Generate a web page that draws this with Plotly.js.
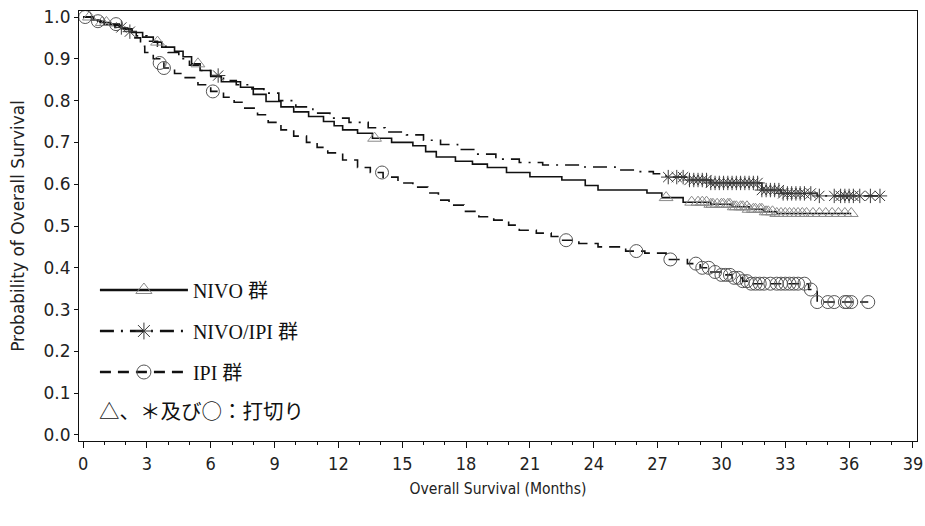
<!DOCTYPE html>
<html>
<head>
<meta charset="utf-8">
<script src="https://cdn.plot.ly/plotly-3.0.1.min.js"></script>
<style>html,body{margin:0;padding:0;background:#fff;}#chart{width:925px;height:526px;}</style>
</head>
<body>
<div id="chart"></div>
<script>
// ---- Data ----
const groupNames = ["NIVO 群", "NIVO/IPI 群", "IPI 群"];

// NIVO: Kaplan-Meier step points
const nivoTime = [0, 0.4, 0.8, 1.3, 1.8, 2.3, 2.8, 3.3, 3.7, 4.3, 4.7, 5.1, 5.5, 6.0, 6.5, 7.4, 8.0, 8.6, 9.3, 9.9, 10.6, 11.3, 11.8, 12.2, 12.9, 13.6, 14.5, 15.5, 16.1, 16.6, 17.5, 18.3, 19.0, 19.9, 21.0, 22.5, 23.6, 24.2, 26.5, 27.2, 28.2, 29.5, 30.5, 31.3, 32.0, 32.6];
const nivoSurv = [1.0, 0.993, 0.987, 0.98, 0.972, 0.963, 0.952, 0.94, 0.928, 0.918, 0.905, 0.888, 0.872, 0.858, 0.845, 0.832, 0.815, 0.798, 0.785, 0.773, 0.762, 0.75, 0.74, 0.73, 0.722, 0.71, 0.70, 0.692, 0.678, 0.665, 0.655, 0.648, 0.64, 0.628, 0.618, 0.61, 0.597, 0.586, 0.579, 0.568, 0.557, 0.552, 0.546, 0.54, 0.534, 0.53];
const nivoEnd = 36.1;
const nivoCensor = [0.3, 0.9, 1.1, 3.5, 5.4, 13.7, 27.4, 28.6, 28.9, 29.1, 29.3, 29.5, 29.6, 29.8, 30.0, 30.1, 30.3, 30.4, 30.6, 30.7, 30.9, 31.0, 31.2, 31.3, 31.5, 31.6, 31.8, 31.9, 32.1, 32.2, 32.4, 32.6, 32.8, 33.0, 33.2, 33.4, 33.6, 33.8, 34.0, 34.3, 34.6, 34.9, 35.2, 35.5, 35.8, 36.1];

// NIVO/IPI
const comboTime = [0, 0.5, 1.0, 1.5, 2.0, 2.5, 3.0, 3.5, 4.0, 4.5, 5.0, 5.5, 6.0, 6.6, 7.2, 7.8, 8.5, 9.2, 10.0, 10.8, 11.6, 12.5, 13.4, 14.2, 15.2, 16.0, 16.8, 17.6, 18.5, 19.4, 20.5, 21.6, 23.5, 25.0, 26.0, 26.8, 27.4, 28.5, 29.5, 31.9, 32.8, 34.5];
const comboSurv = [1.0, 0.99, 0.982, 0.975, 0.965, 0.955, 0.942, 0.93, 0.915, 0.9, 0.885, 0.872, 0.86, 0.848, 0.838, 0.828, 0.818, 0.8, 0.785, 0.77, 0.758, 0.748, 0.735, 0.725, 0.718, 0.705, 0.695, 0.683, 0.672, 0.66, 0.652, 0.646, 0.641, 0.634, 0.63, 0.625, 0.617, 0.61, 0.603, 0.586, 0.578, 0.572];
const comboEnd = 37.45;
const comboCensor = [1.8, 2.2, 6.35, 27.5, 27.9, 28.2, 28.5, 28.7, 28.9, 29.1, 29.3, 29.5, 29.7, 29.9, 30.1, 30.3, 30.5, 30.7, 30.9, 31.1, 31.3, 31.5, 31.7, 31.9, 32.1, 32.3, 32.5, 32.7, 32.9, 33.1, 33.3, 33.5, 33.7, 33.9, 34.2, 34.6, 35.3, 35.6, 35.8, 36.0, 36.2, 36.5, 37.0, 37.45];

// IPI
const ipiTime = [0, 0.5, 1.0, 1.7, 2.3, 2.7, 2.9, 3.3, 3.6, 3.8, 4.3, 4.8, 5.4, 6.0, 6.6, 7.1, 7.6, 8.2, 8.7, 9.3, 9.9, 10.5, 11.0, 11.5, 12.2, 12.9, 13.5, 14.1, 14.8, 15.5, 16.2, 16.7, 17.2, 17.9, 18.6, 19.3, 20.0, 20.5, 21.3, 22.0, 22.5, 23.3, 24.2, 25.5, 26.4, 27.4, 28.4, 29.0, 29.5, 30.0, 30.5, 31.0, 31.4, 34.1, 34.5];
const ipiSurv = [1.0, 0.99, 0.983, 0.97, 0.95, 0.93, 0.915, 0.9, 0.89, 0.878, 0.865, 0.855, 0.838, 0.822, 0.808, 0.796, 0.782, 0.766, 0.748, 0.73, 0.715, 0.70, 0.688, 0.675, 0.658, 0.64, 0.628, 0.617, 0.603, 0.593, 0.579, 0.562, 0.55, 0.535, 0.522, 0.514, 0.502, 0.49, 0.483, 0.475, 0.466, 0.458, 0.45, 0.44, 0.435, 0.42, 0.41, 0.40, 0.39, 0.383, 0.376, 0.368, 0.362, 0.348, 0.318];
const ipiEnd = 36.9;
const ipiCensor = [0.1, 0.7, 1.55, 3.6, 3.8, 6.1, 14.05, 22.7, 26.0, 27.6, 28.8, 29.1, 29.4, 29.7, 30.0, 30.2, 30.4, 30.6, 30.8, 31.0, 31.2, 31.4, 31.6, 31.8, 32.0, 32.3, 32.6, 32.8, 33.0, 33.2, 33.4, 33.6, 33.9, 34.2, 34.5, 35.0, 35.3, 35.8, 35.9, 36.1, 36.9];

const xTicks = [0, 3, 6, 9, 12, 15, 18, 21, 24, 27, 30, 33, 36, 39];
const yTicks = [0.0, 0.1, 0.2, 0.3, 0.4, 0.5, 0.6, 0.7, 0.8, 0.9, 1.0];
const censorNote = "△、＊及び○：打切り";

// ---- Helpers ----
function stepAt(times, surv, t) {
  let v = surv[0];
  for (let i = 0; i < times.length; i++) { if (times[i] <= t) v = surv[i]; else break; }
  return v;
}

const groups = [
  {name: groupNames[0], t: nivoTime, s: nivoSurv, end: nivoEnd, c: nivoCensor,
   dash: "solid", sym: "triangle-up-open", mcol: "#8a8a8a", msize: 12},
  {name: groupNames[1], t: comboTime, s: comboSurv, end: comboEnd, c: comboCensor,
   dash: "14px,7px,2px,7px", sym: "asterisk-open", mcol: "#3a3a3a", msize: 12},
  {name: groupNames[2], t: ipiTime, s: ipiSurv, end: ipiEnd, c: ipiCensor,
   dash: "11px,7px", sym: "circle-open", mcol: "#555555", msize: 13}
];

const traces = [];
groups.forEach((g, i) => {
  traces.push({
    x: g.t.concat([g.end]), y: g.s.concat([g.s[g.s.length - 1]]),
    type: "scatter", mode: "lines", line: {shape: "hv", color: "#111", width: 1.6, dash: g.dash},
    showlegend: false, hoverinfo: "skip"
  });
});
groups.forEach((g, i) => {
  traces.push({
    x: g.c, y: g.c.map(t => stepAt(g.t, g.s, t)),
    type: "scatter", mode: "markers",
    marker: {symbol: g.sym, size: g.msize, color: g.mcol, line: {width: 1, color: g.mcol}},
    showlegend: false, hoverinfo: "skip"
  });
});
groups.forEach((g, i) => {
  traces.push({
    x: [null], y: [null], name: g.name, legendgroup: "g" + i,
    type: "scatter", mode: "lines+markers",
    line: {color: "#111", width: 2.4, dash: g.dash},
    marker: {symbol: g.sym, size: 14, color: g.mcol, line: {width: 1, color: g.mcol}}
  });
});

const sansFont = "DejaVu Sans, Verdana, sans-serif";
const narrowFont = "DejaVu Sans Condensed, sans-serif";
const serifJP = "Liberation Serif, Times New Roman, Noto Sans CJK JP, serif";
const cjkFont = "Noto Sans CJK JP, sans-serif";

const layout = {
  width: 925, height: 526,
  margin: {l: 79, r: 8, t: 11, b: 85},
  paper_bgcolor: "#fff", plot_bgcolor: "#fff",
  showlegend: true,
  legend: {
    x: 0.019, y: 0.3965, xanchor: "left", yanchor: "top",
    bgcolor: "rgba(0,0,0,0)", borderwidth: 0,
    font: {family: serifJP, size: 20, color: "#111"},
    itemwidth: 88, tracegroupgap: 12, itemclick: false, itemdoubleclick: false
  },
  xaxis: {
    range: [-0.19, 39.19], tickvals: xTicks, ticktext: xTicks.map(String),
    ticks: "outside", ticklen: 6, tickcolor: "#111", showgrid: false, zeroline: false,
    showline: true, mirror: true, linecolor: "#111", linewidth: 1,
    tickfont: {family: narrowFont, size: 18, color: "#222"},
    minor: {dtick: 1, tick0: 0, ticks: "outside", ticklen: 3, tickcolor: "#111", showgrid: false},
    title: {text: "Overall Survival (Months)", font: {family: narrowFont, size: 15.5, color: "#222"}, standoff: 10}
  },
  yaxis: {
    range: [-0.0144, 1.0144], tickvals: yTicks, ticktext: yTicks.map(v => v.toFixed(1)),
    ticks: "outside", ticklen: 4, tickcolor: "#111", showgrid: false, zeroline: false,
    showline: true, mirror: true, linecolor: "#111", linewidth: 1,
    tickfont: {family: sansFont, size: 17, color: "#222"},
    title: {text: "Probability of Overall Survival", font: {family: sansFont, size: 17, color: "#222"}, standoff: 14}
  },
  annotations: [{
    text: censorNote, xref: "paper", yref: "paper", x: 0.022, y: 0.072,
    xanchor: "left", yanchor: "middle", showarrow: false,
    font: {family: cjkFont, size: 20.5, color: "#111"}
  }]
};

Plotly.newPlot("chart", traces, layout, {staticPlot: true, displayModeBar: false});
</script>
</body>
</html>
